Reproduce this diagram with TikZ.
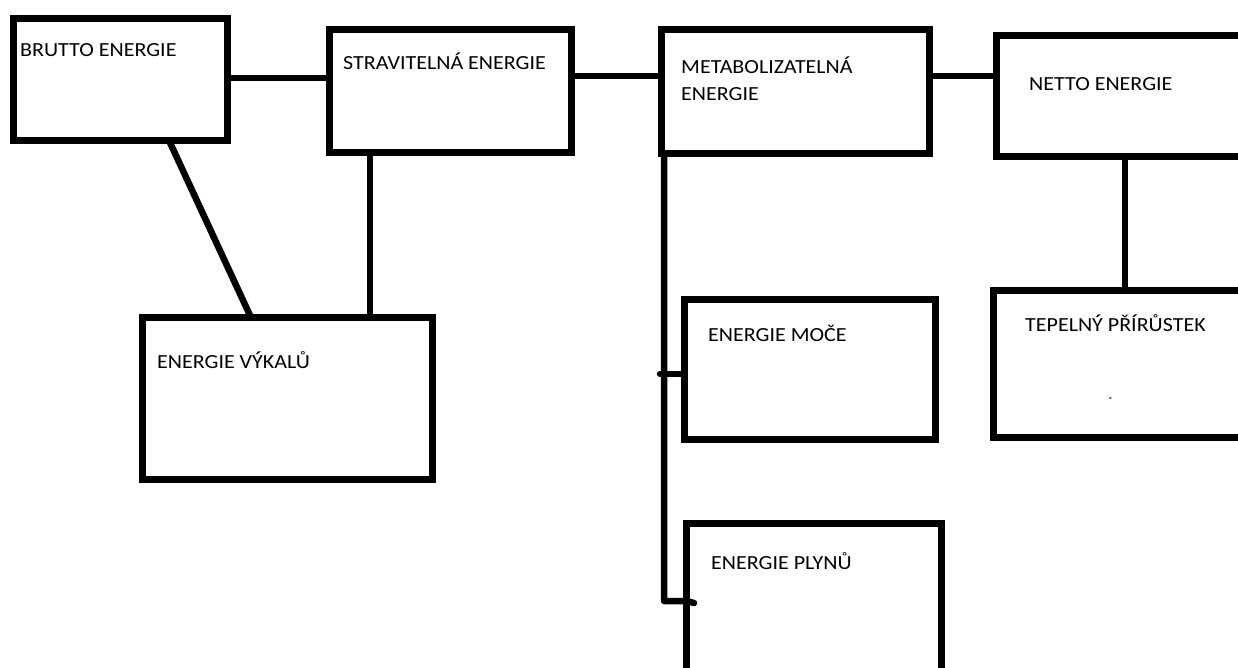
\documentclass[tikz,border=0pt]{standalone}
\usepackage{fontspec}
\setmainfont{Carlito}[FakeStretch=1.1]
\begin{document}
\begin{tikzpicture}[x=1pt,y=-1pt,
  box/.style={draw=black, line width=7pt, rectangle, inner sep=0pt, outer sep=0pt, anchor=north west},
  lbl/.style={anchor=base west, inner sep=0pt, font=\fontsize{20}{24}\selectfont, text=black},
  wire/.style={draw=black, line width=6.5pt, line cap=round, line join=round}]
\useasboundingbox (0,0) rectangle (1238,668);
\clip (0,0) rectangle (1238,668);
\fill[white] (0,0) rectangle (1238,668);
% boxes
\node[box, minimum width=214.5pt, minimum height=122pt] (b)  at (13,18.5) {};
\node[box, minimum width=242pt,   minimum height=123pt] (s)  at (329.5,29.5) {};
\node[box, minimum width=268pt,   minimum height=124pt] (m)  at (661.5,29.5) {};
\node[box, minimum width=254pt,   minimum height=121pt] (n)  at (996,35.5) {};
\node[box, minimum width=290pt,   minimum height=162pt] (v)  at (142.5,317.5) {};
\node[box, minimum width=251pt,   minimum height=140pt] (mo) at (684.5,299.5) {};
\node[box, minimum width=255pt,   minimum height=180pt] (pl) at (686.5,523.5) {};
\node[box, minimum width=260pt,   minimum height=147pt] (t)  at (993.5,290.5) {};
% labels
\node[lbl] (lb)  at (20,57)   {BRUTTO ENERGIE};
\node[lbl] (ls)  at (343,70)  {STRAVITELNÁ ENERGIE};
\node[lbl] (lm1) at (681,74)  {METABOLIZATELNÁ};
\node[lbl] (lm2) at (681,101) {ENERGIE};
\node[lbl] (ln)  at (1029,91) {NETTO ENERGIE};
\node[lbl] (lv)  at (157,368) {ENERGIE VÝKALŮ};
\node[lbl] (lmo) at (708,341) {ENERGIE MOČE};
\node[lbl] (lpl) at (711,569) {ENERGIE PLYNŮ};
\node[lbl] (lt)  at (1025,331) {TEPELNÝ PŘÍRŮSTEK};
\node[lbl, text=black!55] (ldot) at (1107.5,399) {.};
% connectors
\coordinate (j0) at (660,374);
\coordinate (j1) at (664,374);
\coordinate (j2) at (664,601);
\coordinate (e2) at (694,603);
\draw[wire, line cap=butt] (b.east |- 0,78) -- (s.west |- 0,78);
\draw[wire, line cap=butt] (s.east |- 0,76) -- (m.west |- 0,76);
\draw[wire, line cap=butt] (m.east |- 0,76) -- (n.west |- 0,76);
\draw[wire, line cap=butt] (b.south -| 169,0) -- (v.north -| 251,0);
\draw[wire, line cap=butt] (s.south -| 370,0) -- (v.north -| 370,0);
\draw[wire] (m.south -| j1) -- (j2) -- (pl.west |- j2) -- (e2);
\draw[wire] (j0) -- (mo.west |- j1);
\draw[wire] (n.south -| 1125,0) -- (t.north -| 1125,0);
\end{tikzpicture}
\end{document}
